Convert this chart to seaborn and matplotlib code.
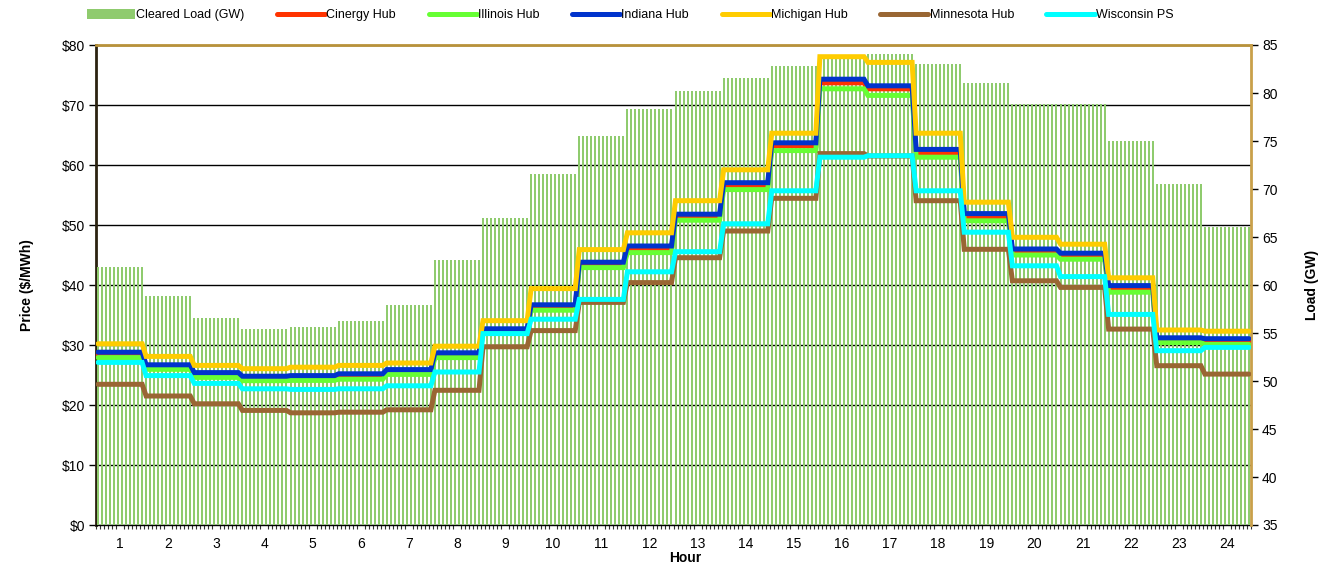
import numpy as np
import pandas as pd
import matplotlib
matplotlib.use("Agg")
import matplotlib.pyplot as plt
from matplotlib.patches import Patch
from matplotlib.lines import Line2D
import seaborn as sns

sns.set_style("white")
plt.rcParams['font.family'] = ['Liberation Sans', 'DejaVu Sans']
plt.rcParams['text.color'] = 'black'
plt.rcParams['axes.labelcolor'] = 'black'
plt.rcParams['xtick.color'] = 'black'
plt.rcParams['ytick.color'] = 'black'

# ---------------- data ----------------
hours = list(range(1, 25))
hour_labels = [str(h) for h in hours]
intervals_per_hour = 12

cleared_load = [61.9, 58.85, 56.55, 55.4, 55.65, 56.25, 57.9, 62.6, 67.0, 71.55, 75.5, 78.3,
                80.2, 81.55, 82.8, 83.7, 84.05, 83.0, 81.05, 78.85, 78.85, 75.0, 70.5, 66.05]

cinergy = [28.4, 26.3, 25.0, 24.4, 24.5, 24.8, 25.5, 28.3, 32.3, 36.2, 43.4, 46.0,
           51.4, 56.6, 63.2, 73.7, 72.7, 62.05, 51.4, 45.55, 44.8, 39.4, 30.7, 30.55]
illinois = [27.9, 25.95, 24.6, 24.05, 24.1, 24.3, 25.1, 27.9, 32.05, 35.8, 42.9, 45.4,
            50.8, 55.9, 62.4, 72.7, 71.6, 61.3, 50.7, 45.0, 44.3, 38.8, 30.4, 30.1]
indiana = [28.8, 26.7, 25.4, 24.8, 24.9, 25.2, 25.9, 28.7, 32.7, 36.7, 43.8, 46.5,
           51.8, 57.05, 63.7, 74.3, 73.2, 62.6, 51.9, 46.0, 45.3, 39.9, 31.2, 31.05]
michigan = [30.2, 28.1, 26.6, 26.05, 26.3, 26.6, 27.0, 29.8, 34.05, 39.4, 45.9, 48.7,
            54.05, 59.2, 65.3, 78.05, 77.1, 65.3, 53.8, 47.95, 46.8, 41.2, 32.5, 32.3]
minnesota = [23.45, 21.5, 20.2, 19.1, 18.7, 18.8, 19.2, 22.45, 29.7, 32.4, 37.1, 40.4,
             44.55, 49.0, 54.45, 61.9, 61.5, 54.05, 45.95, 40.7, 39.6, 32.65, 26.55, 25.15]
wisconsin = [27.1, 24.9, 23.6, 22.7, 22.6, 22.7, 23.2, 25.5, 31.9, 34.3, 37.6, 42.2,
             45.55, 50.2, 55.7, 61.3, 61.55, 55.7, 48.8, 43.2, 41.4, 35.1, 29.05, 29.6]

series_names = ["Cinergy Hub", "Illinois Hub", "Indiana Hub", "Michigan Hub",
                "Minnesota Hub", "Wisconsin PS"]
series_values = [cinergy, illinois, indiana, michigan, minnesota, wisconsin]
series_colors = ["#FF3300", "#66FF33", "#0033CC", "#FFCC00", "#996633", "#00FFFF"]
bar_color = "#8FCB6E"

price_ticks = [0, 10, 20, 30, 40, 50, 60, 70, 80]
load_ticks = [35, 40, 45, 50, 55, 60, 65, 70, 75, 80, 85]

# ---------------- build 5-minute frames ----------------
n = len(hours) * intervals_per_hour
idx = np.arange(n)
bars_df = pd.DataFrame({"interval": idx,
                        "load": np.repeat(cleared_load, intervals_per_hour)})

# ---------------- figure ----------------
W, H = 1339, 563
fig = plt.figure(figsize=(W / 100, H / 100), dpi=100)
L, R, T, B = 96, 1251, 45, 525
ax = fig.add_axes([L / W, 1 - B / H, (R - L) / W, (B - T) / H])
ax_load = ax.twinx()
ax_lines = ax.twinx()

# base axis: price scale + gridlines
ax.set_ylim(0, 80)
ax.set_yticks(price_ticks)
ax.set_yticklabels([f"${v}" for v in price_ticks], fontsize=10)
ax.yaxis.grid(True, color="black", linewidth=1.0)
ax.xaxis.grid(False)
ax.set_axisbelow(True)
ax.set_ylabel("Price ($/MWh)", fontsize=10, fontweight="bold", labelpad=20)
ax.tick_params(axis="y", which="major", left=True, direction="out", length=5, width=1,
               color="black", pad=3)

# bars (load)
sns.barplot(data=bars_df, x="interval", y="load", color=bar_color, saturation=1,
            width=0.5, edgecolor="none", linewidth=0, ax=ax_load, native_scale=True)
for p in ax_load.patches:
    p.set_antialiased(False)
ax_load.set_ylim(35, 85)
ax_load.set_yticks(load_ticks)
ax_load.set_yticklabels([str(v) for v in load_ticks], fontsize=10)
ax_load.yaxis.tick_right()
ax_load.yaxis.set_label_position("right")
ax_load.set_ylabel("Load (GW)", fontsize=10, fontweight="bold", labelpad=20)
ax_load.tick_params(axis="y", right=True, direction="out", length=5, width=1,
                    color="black", pad=3)
ax_load.set_xlabel("")

# price lines
for name, vals, col in zip(series_names, series_values, series_colors):
    sns.lineplot(x=idx, y=np.repeat(vals, intervals_per_hour), color=col,
                 linewidth=3.6, ax=ax_lines, legend=False, solid_joinstyle="miter")
ax_lines.set_ylim(0, 80)
ax_lines.set_yticks([])
ax_lines.set_ylabel("")

# x axis
ax.set_xlim(-0.5, n - 0.5)
ax.set_xticks([h * intervals_per_hour + (intervals_per_hour - 1) / 2 for h in range(len(hours))])
ax.set_xticklabels(hour_labels, fontsize=10)
ax.set_xticks(np.arange(-0.5, n, 1), minor=True)
ax.tick_params(axis="x", which="major", bottom=True, length=0, pad=9)
ax.tick_params(axis="x", which="minor", bottom=True, direction="out", length=3,
               width=0.8, color="#333333")
ax.set_xlabel("Hour", fontsize=10, fontweight="bold")
ax.xaxis.set_label_coords(0.51, -0.055)

# spines
for sp in ax_lines.spines.values():
    sp.set_visible(False)
for k in ["left", "top", "bottom"]:
    ax_load.spines[k].set_visible(False)
ax_load.spines["right"].set_color("#C9A04A")
ax_load.spines["right"].set_linewidth(2)
ax.spines["right"].set_visible(False)
ax.spines["top"].set_color("#B8923A")
ax.spines["top"].set_linewidth(2)
ax.spines["left"].set_color("#2B2210")
ax.spines["left"].set_linewidth(2)
ax.spines["bottom"].set_color("black")
ax.spines["bottom"].set_linewidth(1)

# legend
handles = [Patch(facecolor=bar_color, edgecolor="none", label="Cleared Load (GW)")]
for name, col in zip(series_names, series_colors):
    handles.append(Line2D([0], [0], color=col, linewidth=3.6, label=name))
fig.legend(handles=handles, loc="center left", bbox_to_anchor=(82 / W, 1 - 15 / H),
           ncol=7, frameon=False, fontsize=9, handlelength=3.85, handleheight=0.8,
           handletextpad=0.1, columnspacing=2.6, borderaxespad=0)

fig.savefig("out.png", dpi=100)
